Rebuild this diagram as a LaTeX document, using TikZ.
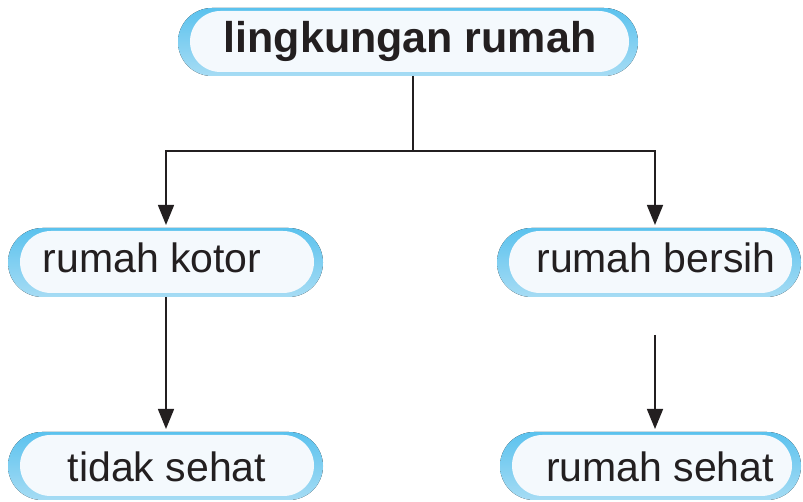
\documentclass[tikz,border=0pt]{standalone}
\usepackage{fontspec}
\setmainfont{Liberation Sans}
\usetikzlibrary{arrows.meta,calc}
\definecolor{capblue}{HTML}{5BC2EE}
\definecolor{capmid}{HTML}{E8F5FC}
\definecolor{capbot}{HTML}{A6DCF4}
\definecolor{capin}{HTML}{F4F9FD}
\definecolor{ink}{HTML}{231F20}
\tikzset{
  conn/.style={draw=ink, line width=1.5pt},
  arr/.style={conn, -{Triangle[width=16pt,length=20pt]}, shorten >=3pt},
  lab/.style={anchor=base, inner sep=0pt, text=ink, font=\fontsize{41}{49}\selectfont},
  labbold/.style={lab, font=\fontsize{43}{51}\selectfont\bfseries},
  anchorbox/.style={draw=none, inner sep=0pt, outer sep=0pt}
}
% #1 name, #2 cx, #3 cy, #4 w, #5 h, #6 text x, #7 baseline y, #8 style, #9 text
\newcommand{\mycapsule}[9]{%
  \pgfmathsetmacro\capR{#5/2}%
  \pgfmathsetmacro\capRi{(#5-7)/2}%
  \fill[top color=capblue, middle color=capmid, bottom color=capbot, rounded corners=\capR pt]
    ({#2-#4/2},{#3-#5/2}) rectangle ({#2+#4/2},{#3+#5/2});
  \fill[capin, rounded corners=\capRi pt]
    ({#2-#4/2+12},{#3-#5/2+4}) rectangle ({#2+#4/2-9},{#3+#5/2-3});
  \node[anchorbox, minimum width=#4pt, minimum height=#5pt] (#1) at (#2,#3) {};
  \node[#8] at (#6,#7) {#9};
}
\begin{document}
\begin{tikzpicture}[x=1pt,y=1pt]
\useasboundingbox (0,0) rectangle (803,502);
\fill[white] (0,0) rectangle (803,502);
\mycapsule{top}{408}{460}{460}{68}{410}{449}{labbold}{lingkungan rumah}
\mycapsule{rk}{165.5}{239.5}{315}{69}{152}{229}{lab}{rumah kotor}
\mycapsule{rb}{649}{239.5}{304}{69}{656}{229}{lab}{rumah bersih}
\mycapsule{ts}{165.5}{36}{315}{68}{167}{20}{lab}{tidak sehat}
\mycapsule{rs}{650.5}{36}{301}{68}{660}{20}{lab}{rumah sehat}
\coordinate (jt) at (413,351);
\coordinate (jl) at (166,351);
\coordinate (jr) at (655,351);
\coordinate (rsrc) at (655,167);
\draw[conn] (top.south -| jt) -- (jt);
\draw[arr] (jt) -- (jl) -- (jl |- rk.north);
\draw[arr] (jt) -- (jr) -- (jr |- rb.north);
\draw[arr] (rk.south -| jl) -- (jl |- ts.north);
\draw[arr] (rsrc) -- (rsrc |- rs.north);
\end{tikzpicture}
\end{document}
